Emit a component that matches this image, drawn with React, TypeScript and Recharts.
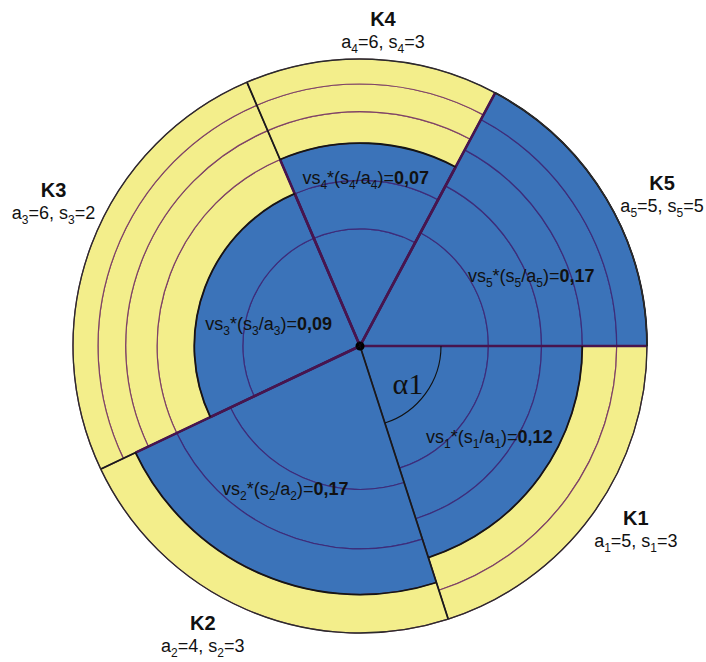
import React from 'react';
import { PieChart, Pie, Cell } from 'recharts';

if (typeof document !== 'undefined') {
  document.body.style.margin = '0';
}

// ---------- data ----------
const categories = ['K1', 'K2', 'K3', 'K4', 'K5'];
const sectorWeights = [72.1, 82.5, 92.2, 51.3, 61.9]; // share of the circle (vs_i, in degrees)
const ringCounts = [5, 4, 6, 6, 5]; // a_i
const filledCounts = [3, 3, 2, 3, 5]; // s_i
const scoreLabels = ['0,12', '0,17', '0,09', '0,07', '0,17'];

// ---------- layout / style ----------
const W = 706;
const H = 662;
const CX = 360;
const CY = 346;
const R = 287;
const BLUE = '#3b73b9';
const YELLOW = '#f3ee8b';
const RING_BLUE = '#3d2c7a';
const RING_YELLOW = '#7f4266';
const BOUND = '#47154f';
const SANS = '"Liberation Sans", Arial, sans-serif';
const SERIF = '"Liberation Serif", "Times New Roman", serif';
const nameLayout = [
  [44, 2.5],
  [41, -5.3],
  [52, -4.6],
  [30, -1.7],
  [51, -4.3],
];
const scoreLayout = [
  [158, 1],
  [161, -4.3],
  [94, 7.1],
  [168, 0.5],
  [185, -8.7],
];
const purpleRadials = [null, 'end', 'both', 'both', 'both'];

const pieData = categories.map((name, i) => ({
  name,
  value: sectorWeights[i],
}));
const total = sectorWeights.reduce((a, b) => a + b, 0);
const theta = sectorWeights.map((w) => (w / total) * 2 * Math.PI);
const blueRadius = ringCounts.map((a, i) => R * Math.sqrt(filledCounts[i] / a));

const RAD = Math.PI / 180;
const polar = (cx: number, cy: number, r: number, deg: number) => ({
  x: cx + r * Math.cos(deg * RAD),
  y: cy - r * Math.sin(deg * RAD),
});

type Part = { t: string; sub?: boolean; bold?: boolean };

function RichText({ x, y, parts, fontSize, subSize, subDy, family, anchor = 'middle' }: any) {
  let shifted = false;
  return (
    <text x={x} y={y} textAnchor={anchor} fontSize={fontSize} fontFamily={family} fill="#111">
      {parts.map((p: Part, idx: number) => {
        let dy = 0;
        if (p.sub && !shifted) {
          dy = subDy;
          shifted = true;
        } else if (!p.sub && shifted) {
          dy = -subDy;
          shifted = false;
        }
        return (
          <tspan
            key={idx}
            dy={dy !== 0 ? dy : undefined}
            fontSize={p.sub ? subSize : undefined}
            fontWeight={p.bold ? 'bold' : undefined}
          >
            {p.t}
          </tspan>
        );
      })}
    </text>
  );
}

const renderLabels = (props: any) => {
  const { cx = CX, cy = CY, midAngle, index } = props;
  const n = String(index + 1);
  const [nr, na] = nameLayout[index];
  const c = polar(cx, cy, R + nr, midAngle + na);
  const [sr, sa] = scoreLayout[index];
  const s = polar(cx, cy, sr, midAngle + sa);
  const aParts: Part[] = [
    { t: 'a' },
    { t: n, sub: true },
    { t: `=${ringCounts[index]}, s` },
    { t: n, sub: true },
    { t: `=${filledCounts[index]}` },
  ];
  const scoreParts: Part[] = [
    { t: 'vs' },
    { t: n, sub: true },
    { t: '*(s' },
    { t: n, sub: true },
    { t: '/a' },
    { t: n, sub: true },
    { t: ')=' },
    { t: scoreLabels[index], bold: true },
  ];
  return (
    <g key={`lbl-${index}`}>
      <text
        x={c.x}
        y={c.y - 4.3}
        textAnchor="middle"
        fontSize={20}
        fontWeight="bold"
        fontFamily={SANS}
        fill="#111"
      >
        {categories[index]}
      </text>
      <RichText x={c.x} y={c.y + 17.8} parts={aParts} fontSize={18} subSize={12} subDy={5} family={SANS} />
      <RichText x={s.x} y={s.y + 6.2} parts={scoreParts} fontSize={18} subSize={12} subDy={5} family={SANS} />
    </g>
  );
};

const renderAlpha = (props: any) => {
  const { cx = CX, cy = CY, midAngle, index } = props;
  if (index !== 0) return <g key={`a-${index}`} />;
  const p = polar(cx, cy, 61, midAngle - 2.3);
  return (
    <text key="alpha" x={p.x} y={p.y + 10} textAnchor="middle" fontSize={30} fontFamily={SERIF} fill="#111">
      α1
    </text>
  );
};

const common = {
  data: pieData,
  dataKey: 'value',
  cx: CX,
  cy: CY,
  startAngle: 360,
  endAngle: 0,
  isAnimationActive: false,
  labelLine: false,
};

export default function App() {
  const ringPies: any[] = [];
  categories.forEach((_, i) => {
    const a = ringCounts[i];
    for (let k = 1; k <= a; k++) {
      const blue = k <= filledCounts[i];
      ringPies.push(
        <Pie
          key={`ring-${i}-${k}`}
          {...common}
          innerRadius={R * Math.sqrt((k - 1) / a)}
          outerRadius={R * Math.sqrt(k / a)}
        >
          {pieData.map((d, j) => (
            <Cell
              key={d.name}
              fill={j === i ? (blue ? BLUE : YELLOW) : 'none'}
              stroke={j === i ? (blue ? RING_BLUE : RING_YELLOW) : 'none'}
              strokeWidth={1.2}
            />
          ))}
        </Pie>
      );
    }
  });

  return (
    <div style={{ width: W, height: H }}>
      <PieChart width={W} height={H} margin={{ top: 0, right: 0, bottom: 0, left: 0 }}>
        {ringPies}

        {/* black radial boundaries (each drawn once: the slice's end edge) */}
        <Pie key="radials-black" {...common} innerRadius={0} outerRadius={R}>
          {pieData.map((d, j) => (
            <Cell
              key={d.name}
              fill="none"
              stroke="#1a1a1a"
              strokeWidth={1.8}
              strokeDasharray={`0 ${R * theta[j]} ${R + 0.5} ${4 * R}`}
            />
          ))}
        </Pie>

        {/* purple radial boundaries within the blue parts */}
        {categories.map((_, i) => {
          const mode = purpleRadials[i];
          if (!mode) return null;
          const rb = blueRadius[i];
          const dash =
            mode === 'end'
              ? `0 ${rb * theta[i]} ${rb + 0.5} ${4 * rb}`
              : `0 ${rb * theta[i]} ${2 * rb + 10}`;
          return (
            <Pie key={`radials-purple-${i}`} {...common} innerRadius={0} outerRadius={rb}>
              {pieData.map((d, j) => (
                <Cell
                  key={d.name}
                  fill="none"
                  stroke={j === i ? BOUND : 'none'}
                  strokeWidth={2.6}
                  strokeDasharray={dash}
                />
              ))}
            </Pie>
          );
        })}

        {/* blue / yellow boundary arcs */}
        {categories.map((_, i) => (
          <Pie key={`bluearc-${i}`} {...common} innerRadius={blueRadius[i]} outerRadius={blueRadius[i]}>
            {pieData.map((d, j) => (
              <Cell key={d.name} fill="none" stroke={j === i ? '#151515' : 'none'} strokeWidth={1.8} />
            ))}
          </Pie>
        ))}

        {/* outer edge */}
        <Pie key="outer" {...common} innerRadius={R} outerRadius={R}>
          {pieData.map((d) => (
            <Cell key={d.name} fill="none" stroke="#2b2b2b" strokeWidth={1.3} />
          ))}
        </Pie>

        {/* alpha arc */}
        <Pie key="alpha" {...common} innerRadius={81} outerRadius={81} label={renderAlpha}>
          {pieData.map((d, j) => (
            <Cell key={d.name} fill="none" stroke={j === 0 ? '#111' : 'none'} strokeWidth={1.1} />
          ))}
        </Pie>

        {/* centre dot */}
        <Pie key="dot" {...common} innerRadius={0} outerRadius={4.5}>
          {pieData.map((d) => (
            <Cell key={d.name} fill="#000" stroke="none" />
          ))}
        </Pie>

        {/* labels */}
        <Pie key="labels" {...common} innerRadius={0} outerRadius={R} label={renderLabels}>
          {pieData.map((d) => (
            <Cell key={d.name} fill="none" stroke="none" />
          ))}
        </Pie>
      </PieChart>
    </div>
  );
}
